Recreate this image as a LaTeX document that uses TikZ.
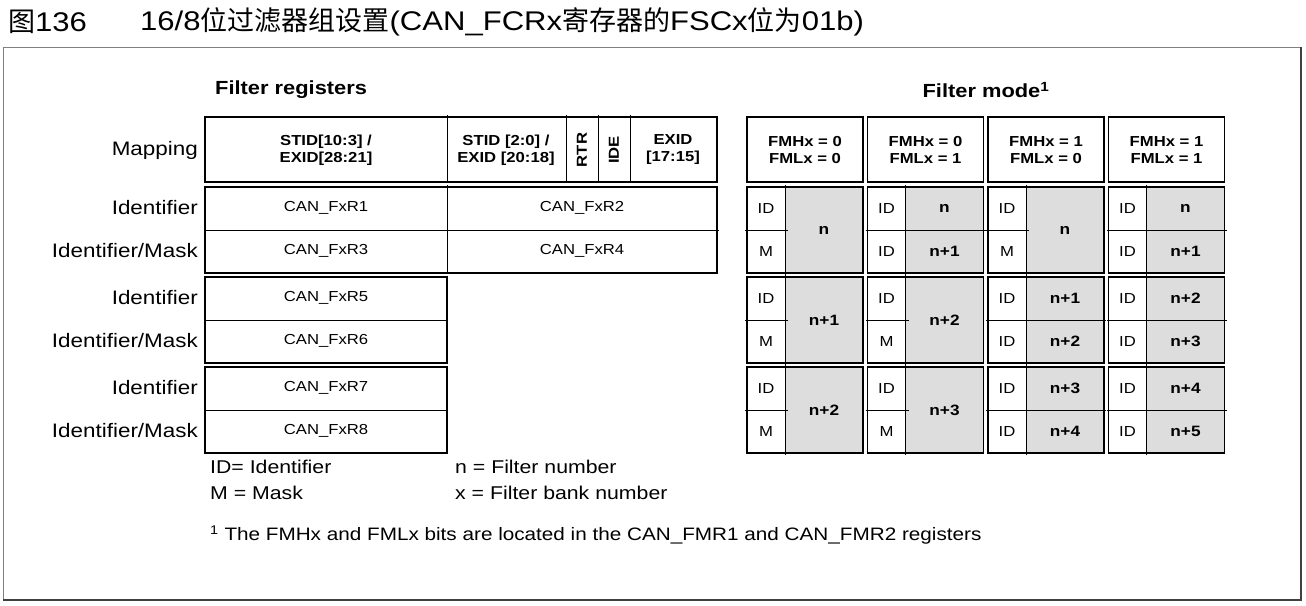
\documentclass[tikz,border=0pt]{standalone}
\usepackage{fontspec}
\setmainfont[FakeStretch=1.15]{Liberation Sans}
\newfontfamily\cjk{Noto Sans CJK SC}
\definecolor{cellgray}{RGB}{221,221,221}

\begin{document}
\begin{tikzpicture}[x=1pt, y=-1pt,
    lbl/.style={anchor=east, inner sep=0pt, font=\fontsize{19.5}{22}\selectfont},
    reg/.style={font=\fontsize{14.5}{17}\selectfont},
    hdr/.style={font=\bfseries\fontsize{14.5}{17}\selectfont, align=center},
    num/.style={font=\bfseries\fontsize{15}{17}\selectfont},
    legend/.style={anchor=west, inner sep=0pt, font=\fontsize{18.5}{22}\selectfont},
    box/.style={draw, line width=1.5pt},
    rule/.style={line width=0.8pt}
  ]
  \useasboundingbox (0,0) rectangle (1306,605);

  % title and frame
  \node[anchor=west, inner sep=0pt, font=\fontsize{27}{29}\selectfont] (fig) at (8,22) {{\cjk 图}136};
  \node[anchor=west, inner sep=0pt, font=\fontsize{27}{29}\selectfont] (title) at (140,22)
    {16/8{\cjk 位过滤器组设置}(CAN\_FCRx{\cjk 寄存器的}FSCx{\cjk 位为}01b)};
  \draw[gray, line width=1pt] (3,600) -- (3,47) -- (1301,47);
  \draw[black!75, line width=2pt] (1301,47) -- (1301,600) -- (3,600);

  % headings
  \node[anchor=west, inner sep=0pt, font=\bfseries\fontsize{19}{22}\selectfont] (fregs) at (215,90) {Filter registers};
  \node[inner sep=0pt, font=\bfseries\fontsize{19}{22}\selectfont] (fmode) at (986,90) {Filter mode\textsuperscript{1}};

  % row labels
  \node[lbl] (map) at (198,150) {Mapping};
  \foreach \b in {0,1,2} {
    \node[lbl] (ida\b) at (198,208+90*\b) {Identifier};
    \node[lbl] (idm\b) at (198,251+90*\b) {Identifier/Mask};
  }

  % filter registers
  \draw[box] (205,117) rectangle (717,182);
  \draw[rule] (447,115) -- (447,182) (566,115) -- (566,182) (598,115) -- (598,182) (630,115) -- (630,182);
  \node[hdr] (stida) at (326,150) {STID[10:3] /\\EXID[28:21]};
  \node[hdr] (stidb) at (506,150) {STID [2:0] /\\EXID [20:18]};
  \node[hdr, rotate=90] (rtr) at (582,150) {RTR};
  \node[hdr, rotate=90] (ide) at (614,150) {IDE};
  \node[hdr] (exid) at (673,150) {EXID\\{[17:15]}};

  \draw[box] (205,187) rectangle (717,273);
  \draw[rule] (205,230) -- (719,230) (447,185) -- (447,273);
  \node[reg] (r1) at (326,208) {CAN\_FxR1};
  \node[reg] (r2) at (582,208) {CAN\_FxR2};
  \node[reg] (r3) at (326,251) {CAN\_FxR3};
  \node[reg] (r4) at (582,251) {CAN\_FxR4};

  \foreach \b/\ra/\rb in {1/5/6, 2/7/8} {
    \draw[box] (205,187+90*\b) rectangle (447,273+90*\b);
    \draw[rule] (205,230+90*\b) -- (447,230+90*\b);
    \node[reg] (r\ra) at (326,208+90*\b) {CAN\_FxR\ra};
    \node[reg] (r\rb) at (326,251+90*\b) {CAN\_FxR\rb};
  }

  % filter mode
  \foreach \c/\h/\l in {0/0/0, 1/0/1, 2/1/0, 3/1/1} {
    \pgfmathsetmacro\xa{747+120.5*\c}
    \draw[box] (\xa,117) rectangle (\xa+116,182);
    \node[hdr] (fm\c) at (\xa+58,150) {FMHx = \h\\FMLx = \l};
  }
  \foreach \c/\b/\m/\ta/\tb in {0/0/1/n/, 0/1/1/n+1/, 0/2/1/n+2/,
      1/0/0/n/n+1, 1/1/1/n+2/, 1/2/1/n+3/,
      2/0/1/n/, 2/1/0/n+1/n+2, 2/2/0/n+3/n+4,
      3/0/0/n/n+1, 3/1/0/n+2/n+3, 3/2/0/n+4/n+5} {
    \pgfmathsetmacro\xa{747+120.5*\c}
    \pgfmathsetmacro\ya{187+90*\b}
    \fill[cellgray] (\xa+38,\ya) rectangle (\xa+116,\ya+86);
    \draw[rule] (\xa+38,\ya-2) -- (\xa+38,\ya+88);
    \ifnum\m=1
      \draw[rule] (\xa-2,\ya+43) -- (\xa+41,\ya+43);
      \node[reg] (k\c\b a) at (\xa+19,\ya+21.5) {ID};
      \node[reg] (k\c\b b) at (\xa+19,\ya+64.5) {M};
      \node[num] (f\c\b a) at (\xa+77,\ya+43) {\ta};
    \else
      \draw[rule] (\xa-2,\ya+43) -- (\xa+118,\ya+43);
      \node[reg] (k\c\b a) at (\xa+19,\ya+21.5) {ID};
      \node[reg] (k\c\b b) at (\xa+19,\ya+64.5) {ID};
      \node[num] (f\c\b a) at (\xa+77,\ya+21.5) {\ta};
      \node[num] (f\c\b b) at (\xa+77,\ya+64.5) {\tb};
    \fi
    \draw[box] (\xa,\ya) rectangle (\xa+116,\ya+86);
  }

  % key
  \node[legend] (kid) at (210,467) {ID= Identifier};
  \node[legend] (km) at (210,493) {M = Mask};
  \node[legend] (kn) at (455,467) {n = Filter number};
  \node[legend] (kx) at (455,493) {x = Filter bank number};
  \node[legend, font=\fontsize{18}{22}\selectfont] (note) at (210,535) {\textsuperscript{1} The FMHx and FMLx bits are located in the CAN\_FMR1 and CAN\_FMR2 registers};
\end{tikzpicture}
\end{document}
